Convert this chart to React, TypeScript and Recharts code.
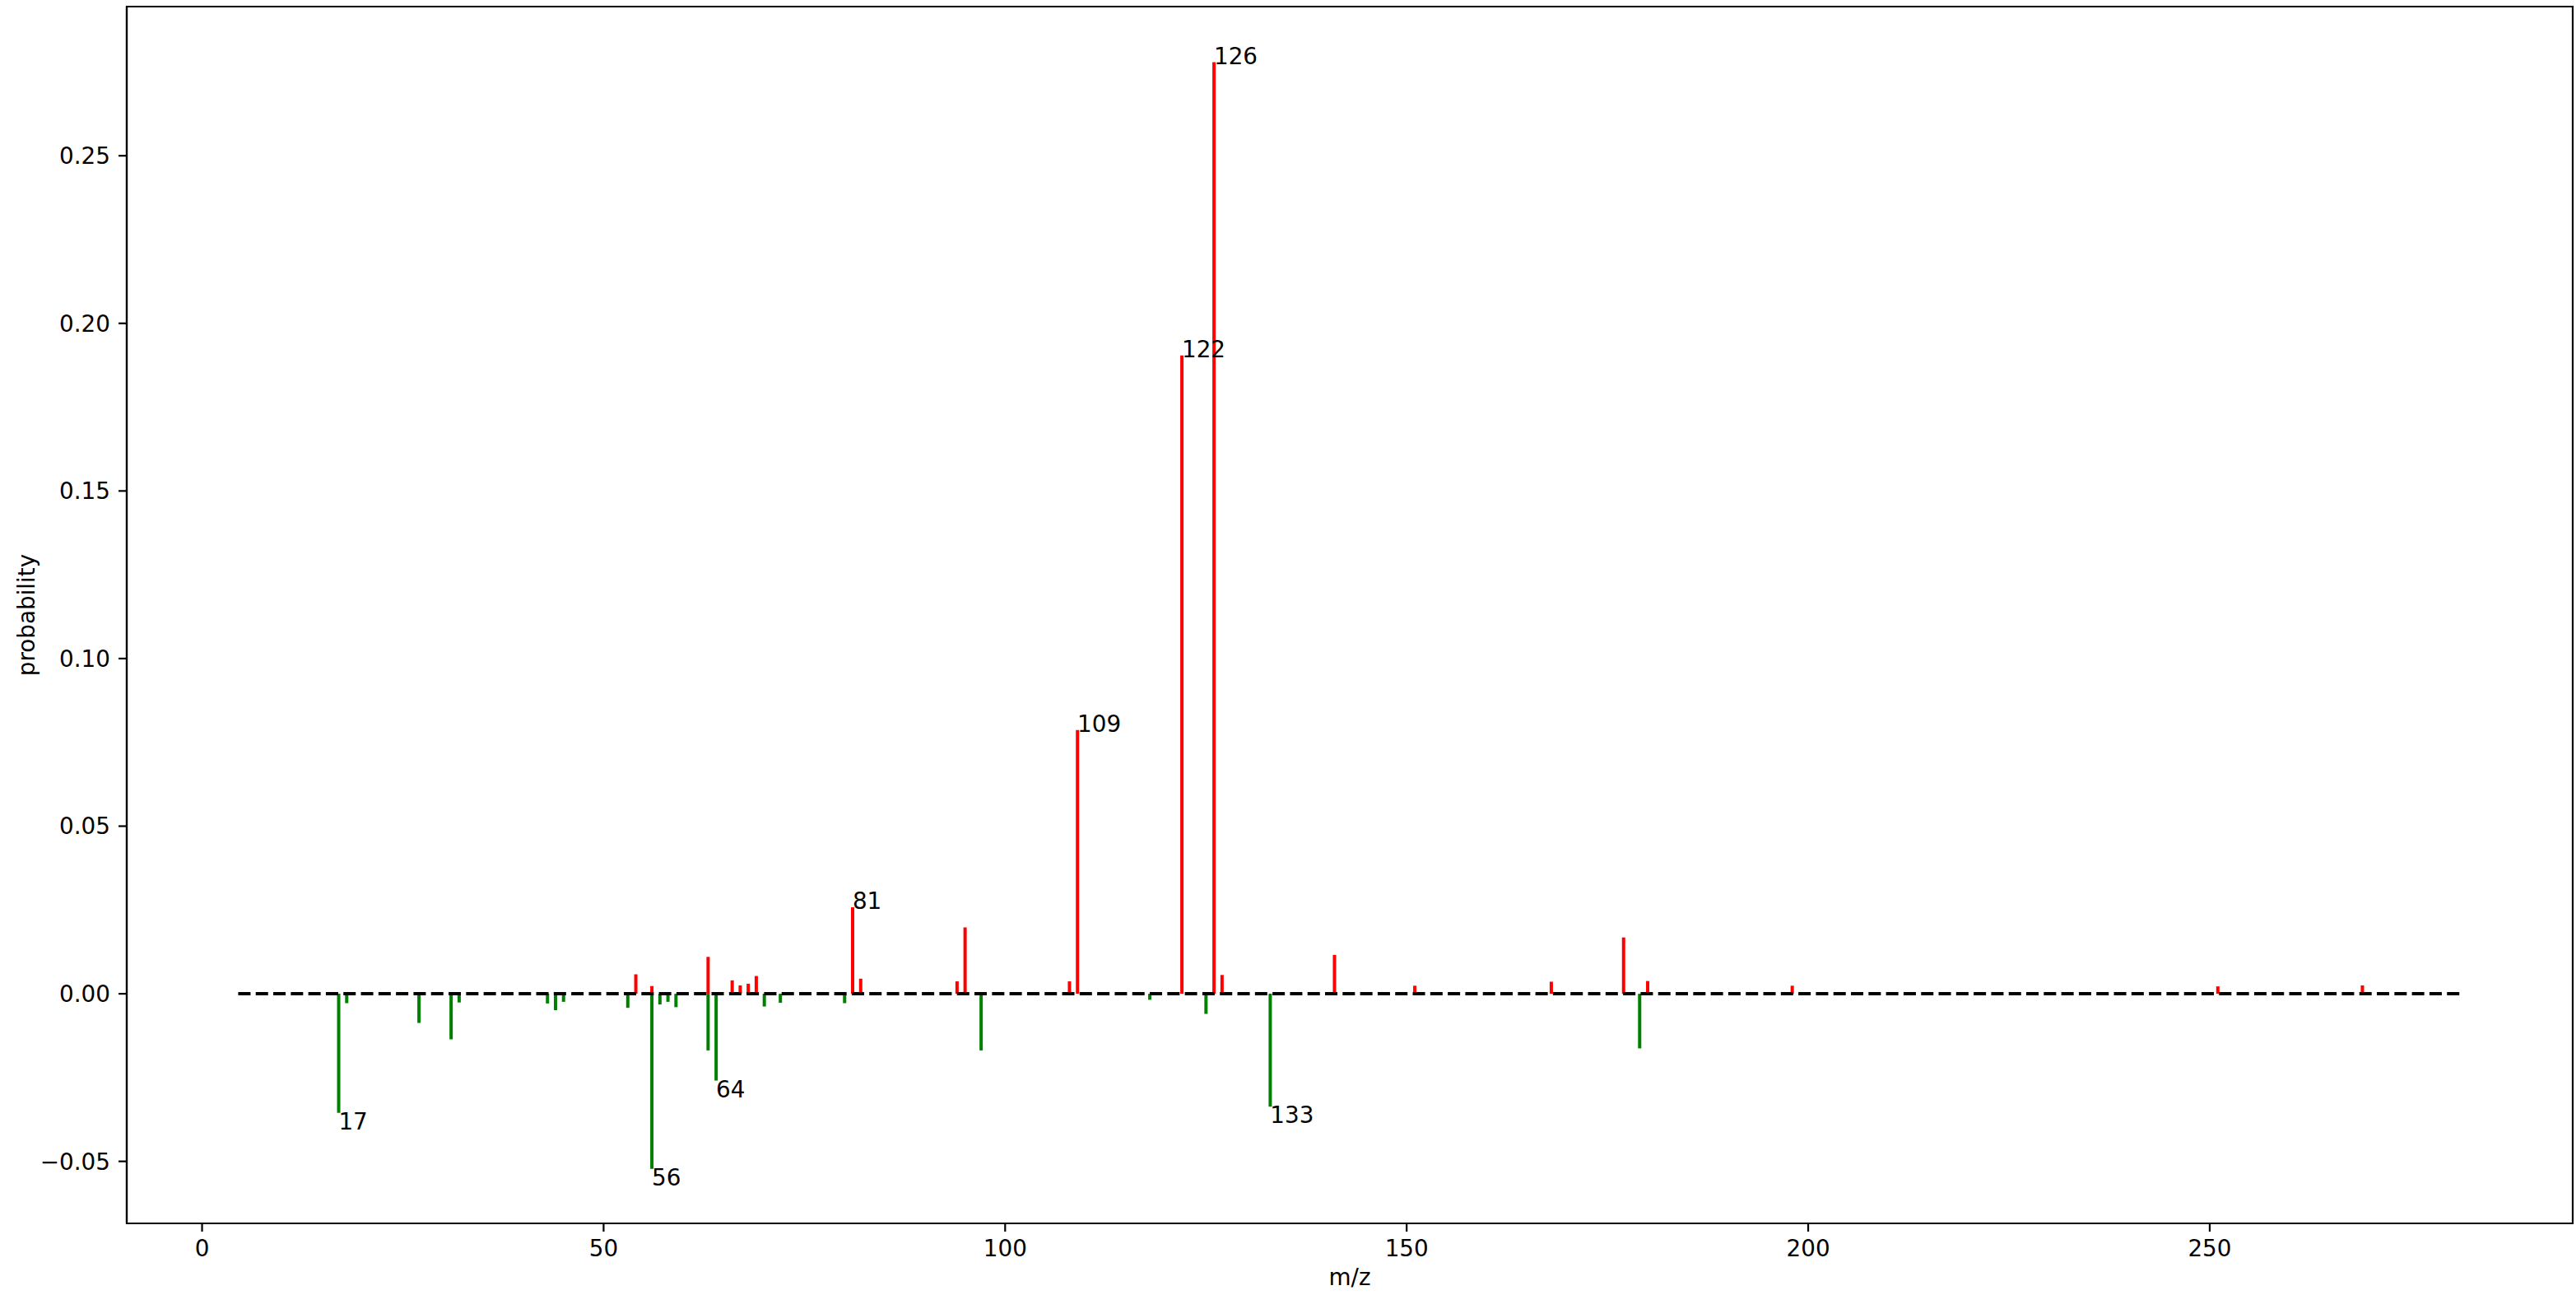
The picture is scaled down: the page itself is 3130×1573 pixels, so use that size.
import React from "react";
import {
  ComposedChart,
  Bar,
  Scatter,
  XAxis,
  YAxis,
  ReferenceLine,
  ReferenceArea,
  Label,
} from "recharts";

// reference spectrum (drawn upward, red)
const TRUE_MZ = [54, 56, 63, 66, 67, 68, 69, 81, 82, 94, 95, 108, 109, 122, 126, 127, 141, 151, 168, 177, 180, 198, 251, 269];
const TRUE_PROB = [0.0058, 0.0023, 0.011, 0.004, 0.0025, 0.003, 0.0053, 0.0258, 0.0045, 0.0037, 0.0198, 0.0037, 0.0787, 0.1904, 0.2779, 0.0056, 0.0116, 0.0024, 0.0036, 0.0168, 0.0038, 0.0024, 0.0022, 0.0025];

// predicted spectrum (drawn downward, green)
const PRED_MZ = [17, 18, 27, 31, 32, 43, 44, 45, 53, 56, 57, 58, 59, 63, 64, 70, 72, 80, 97, 118, 125, 133, 179];
const PRED_PROB = [-0.0355, -0.0028, -0.0087, -0.0136, -0.0026, -0.0029, -0.0049, -0.0024, -0.0042, -0.0522, -0.0032, -0.0024, -0.004, -0.0169, -0.0259, -0.0038, -0.0027, -0.0028, -0.0169, -0.0018, -0.006, -0.0337, -0.0163];

const TRUE_LABELS = [81, 109, 122, 126];
const PRED_LABELS = [17, 56, 64, 133];

const X_TICKS = [0, 50, 100, 150, 200, 250];
const Y_TICKS = [-0.05, 0, 0.05, 0.1, 0.15, 0.2, 0.25];
const X_DOMAIN: [number, number] = [-9.38, 295.2];
const Y_DOMAIN: [number, number] = [-0.0685, 0.2945];
const BASELINE_MZ = [4.5, 281.3];

const allMz = Array.from(new Set([...TRUE_MZ, ...PRED_MZ])).sort((a, b) => a - b);
const rows = allMz.map((mz) => {
  const i = TRUE_MZ.indexOf(mz);
  const j = PRED_MZ.indexOf(mz);
  return {
    mz,
    measured: i >= 0 ? TRUE_PROB[i] : null,
    predicted: j >= 0 ? PRED_PROB[j] : null,
  };
});

const labelPoints = [
  ...TRUE_LABELS.map((mz) => ({ mz, prob: TRUE_PROB[TRUE_MZ.indexOf(mz)], down: false })),
  ...PRED_LABELS.map((mz) => ({ mz, prob: PRED_PROB[PRED_MZ.indexOf(mz)], down: true })),
];

const FONT = "'DejaVu Sans', sans-serif";
const FS = 27.8;

const fmtY = (v: number) => {
  const s = Math.abs(v).toFixed(2);
  return v < 0 ? "\u2212" + s : s;
};

function PeakText(props: any) {
  const { cx, cy, payload } = props;
  if (cx == null || cy == null) return <g />;
  return (
    <text
      x={cx}
      y={payload.down ? cy + 20 : cy + 2}
      fontFamily={FONT}
      fontSize={FS}
      fill="#000"
      textAnchor="start"
    >
      {payload.mz}
    </text>
  );
}

export default function App() {
  return (
    <div style={{ position: "absolute", left: 0, top: 0, width: 3130, height: 1573, background: "#fff", fontFamily: FONT }}>
      <ComposedChart
        width={3130}
        height={1573}
        data={rows}
        stackOffset="sign"
        margin={{ top: 8, right: 4, left: 0, bottom: 0 }}
      >
        <XAxis
          dataKey="mz"
          type="number"
          domain={X_DOMAIN}
          allowDataOverflow
          ticks={X_TICKS}
          height={87}
          tickSize={10}
          tickMargin={10}
          axisLine={{ stroke: "#000", strokeWidth: 2.2 }}
          tickLine={{ stroke: "#000", strokeWidth: 2.2 }}
          tick={{ fill: "#000", fontSize: FS, fontFamily: FONT }}
        >
          <Label value="m/z" position="insideBottom" offset={12} fill="#000" fontSize={FS} fontFamily={FONT} />
        </XAxis>
        <YAxis
          type="number"
          domain={Y_DOMAIN}
          allowDataOverflow
          ticks={Y_TICKS}
          width={154}
          tickSize={10}
          tickMargin={10}
          tickFormatter={fmtY}
          axisLine={{ stroke: "#000", strokeWidth: 2.2 }}
          tickLine={{ stroke: "#000", strokeWidth: 2.2 }}
          tick={{ fill: "#000", fontSize: FS, fontFamily: FONT }}
        >
          <Label
            value="probability"
            angle={-90}
            position="insideLeft"
            offset={32}
            fill="#000"
            fontSize={FS}
            fontFamily={FONT}
            style={{ textAnchor: "middle" }}
          />
        </YAxis>
        <ReferenceArea
          x1={X_DOMAIN[0]}
          x2={X_DOMAIN[1]}
          y1={Y_DOMAIN[0]}
          y2={Y_DOMAIN[1]}
          fill="none"
          fillOpacity={0}
          stroke="#000"
          strokeWidth={2.2}
          ifOverflow="visible"
        />
        <Bar dataKey="measured" stackId="s" fill="#ff0000" barSize={4} isAnimationActive={false} />
        <Bar dataKey="predicted" stackId="s" fill="#008000" barSize={4} isAnimationActive={false} />
        <ReferenceLine
          segment={[
            { x: BASELINE_MZ[0], y: 0 },
            { x: BASELINE_MZ[1], y: 0 },
          ]}
          stroke="#000"
          strokeWidth={4}
          strokeDasharray="15 6.3"
        />
        <Scatter data={labelPoints} dataKey="prob" shape={PeakText} isAnimationActive={false} />
      </ComposedChart>
    </div>
  );
}
